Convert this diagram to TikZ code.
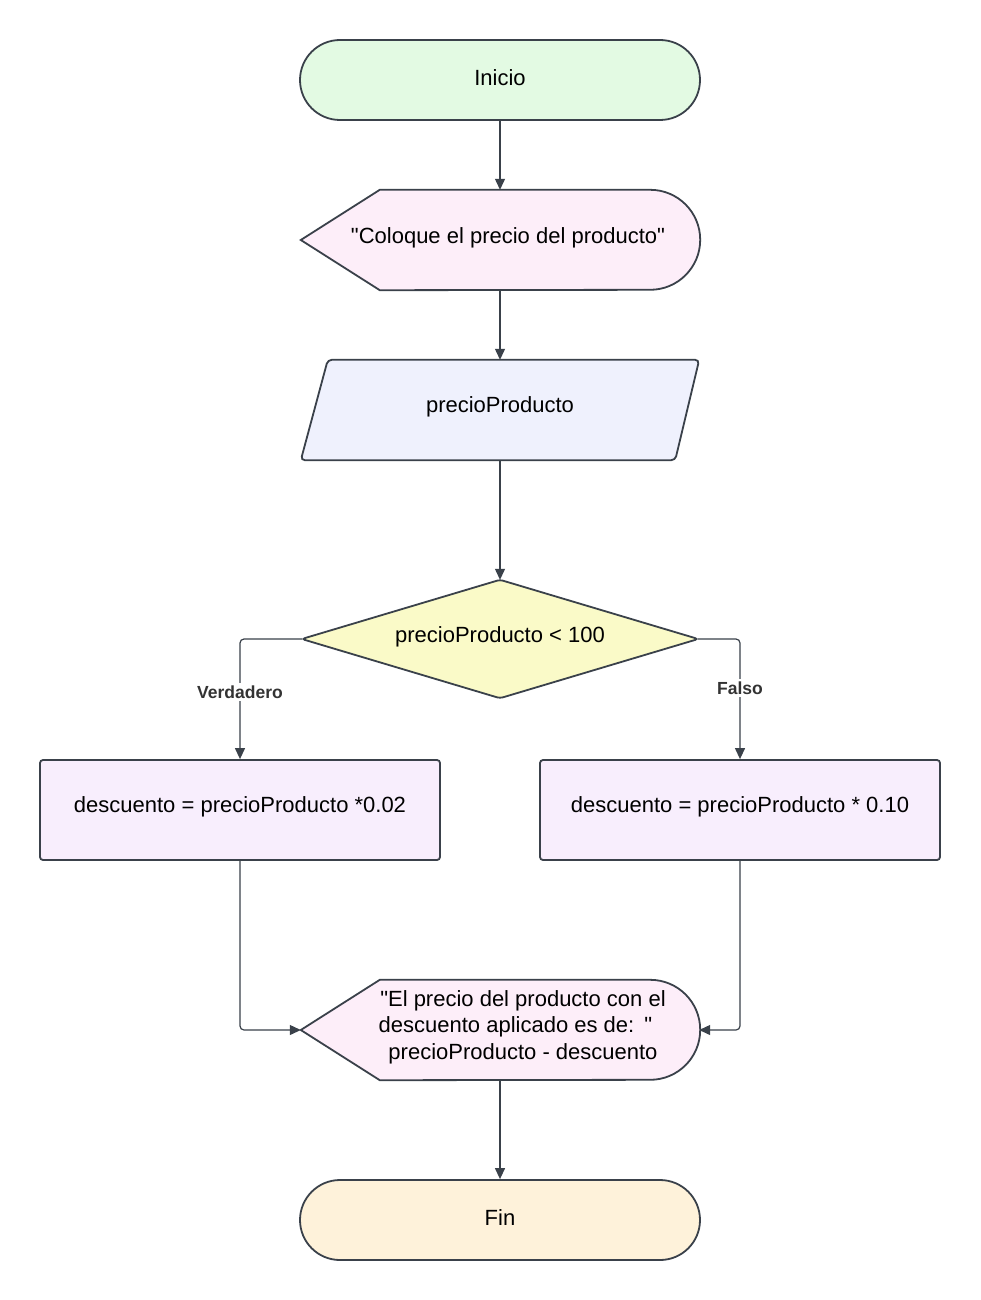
\documentclass[tikz,border=0pt]{standalone}
\usepackage{fontspec}
\setmainfont{Liberation Sans}[Ligatures=TeXOff]
\usetikzlibrary{arrows.meta,calc}
\definecolor{ln}{HTML}{3A414A}
\definecolor{lbltext}{HTML}{333333}
\definecolor{startfill}{HTML}{E3FAE3}
\definecolor{dispfill}{HTML}{FDEEF9}
\definecolor{parfill}{HTML}{EFF1FD}
\definecolor{diafill}{HTML}{FAFAC8}
\definecolor{boxfill}{HTML}{F8EEFD}
\definecolor{endfill}{HTML}{FEF2DA}
\begin{document}
\begin{tikzpicture}[x=1pt,y=-1pt,
 shp/.style={draw=ln, line width=1.8pt},
 conn/.style={draw=ln, line width=1.2pt, -{Triangle[length=11pt,width=10pt]}, rounded corners=4pt},
 txt/.style={font=\fontsize{22}{26.5}\selectfont, text=black, align=center, inner sep=0pt},
 lbl/.style={font=\bfseries\fontsize{17.5}{20}\selectfont, text=lbltext, fill=white, inner sep=3pt},
 box/.style={shp, rounded corners=3pt, minimum width=400pt, minimum height=100pt, fill=boxfill, txt},
 pill/.style={shp, rounded corners=40pt, minimum width=400pt, minimum height=80pt, txt},
 ghost/.style={minimum width=398pt, minimum height=100pt, inner sep=0pt}
]
\useasboundingbox (0,0) rectangle (980,1300);
\fill[white] (0,0) rectangle (980,1300);

% Inicio
\node[pill, fill=startfill] (inicio) at (500,80) {};
\node[txt] (iniciot) at (500,78) {Inicio};

% Display 1
\node[ghost] (d1) at (500,240) {};
\draw[shp, fill=dispfill] (d1.west) -- ($(d1.north west)+(79,0)$) -- ($(d1.north east)+(-49,0)$)
  arc[start angle=90, end angle=-90, radius=50pt] -- ($(d1.south west)+(79,0)$) -- cycle;
\node[txt] (d1t) at (508,238) {"Coloque el precio del producto"};

% Parallelogram
\node[ghost] (par) at (500,410) {};
\draw[shp, fill=parfill, rounded corners=4pt] ($(par.north west)+(27,0)$) -- (par.north east)
  -- ($(par.south east)+(-24,0)$) -- (par.south west) -- cycle;
\node[txt] (part) at (500,407) {precioProducto};

% Diamond
\node[minimum width=396pt, minimum height=118pt, inner sep=0pt] (dia) at (500,639) {};
\draw[shp, fill=diafill, rounded corners=3pt] (dia.north) -- (dia.east) -- (dia.south) -- (dia.west) -- cycle;
\node[txt] (diat) at (500,637) {precioProducto < 100};

% Process boxes
\node[box] (bl) at (240,810) {};
\node[txt] (blt) at (240,807) {descuento = precioProducto *0.02};
\node[box] (br) at (740,810) {};
\node[txt] (brt) at (740,807) {descuento = precioProducto * 0.10};

% Display 2
\node[ghost] (d2) at (500,1030) {};
\draw[shp, fill=dispfill] (d2.west) -- ($(d2.north west)+(79,0)$) -- ($(d2.north east)+(-49,0)$)
  arc[start angle=90, end angle=-90, radius=50pt] -- ($(d2.south west)+(79,0)$) -- cycle;
\node[txt] (d2t) at (523,1027) {"El precio del producto con el\\descuento aplicado es de: \hspace{2pt}"\hspace*{15pt}\mbox{}\\precioProducto - descuento};

% Fin
\node[pill, fill=endfill] (fin) at (500,1220) {};
\node[txt] (fint) at (500,1218) {Fin};

% Connectors
\draw[conn] (inicio) -- (d1);
\draw[conn] (d1) -- (par);
\draw[conn] (par) -- (dia);
\draw[conn] (dia.west) -| (bl.north);
\draw[conn] (dia.east) -| (br.north);
\node[lbl] (lv) at (240,692) {Verdadero};
\node[lbl] (lf) at (740,688) {Falso};
\draw[conn] (bl.south) |- (d2.west);
\draw[conn] (br.south) |- (d2.east);
\draw[conn] (d2) -- (fin);
\end{tikzpicture}
\end{document}
